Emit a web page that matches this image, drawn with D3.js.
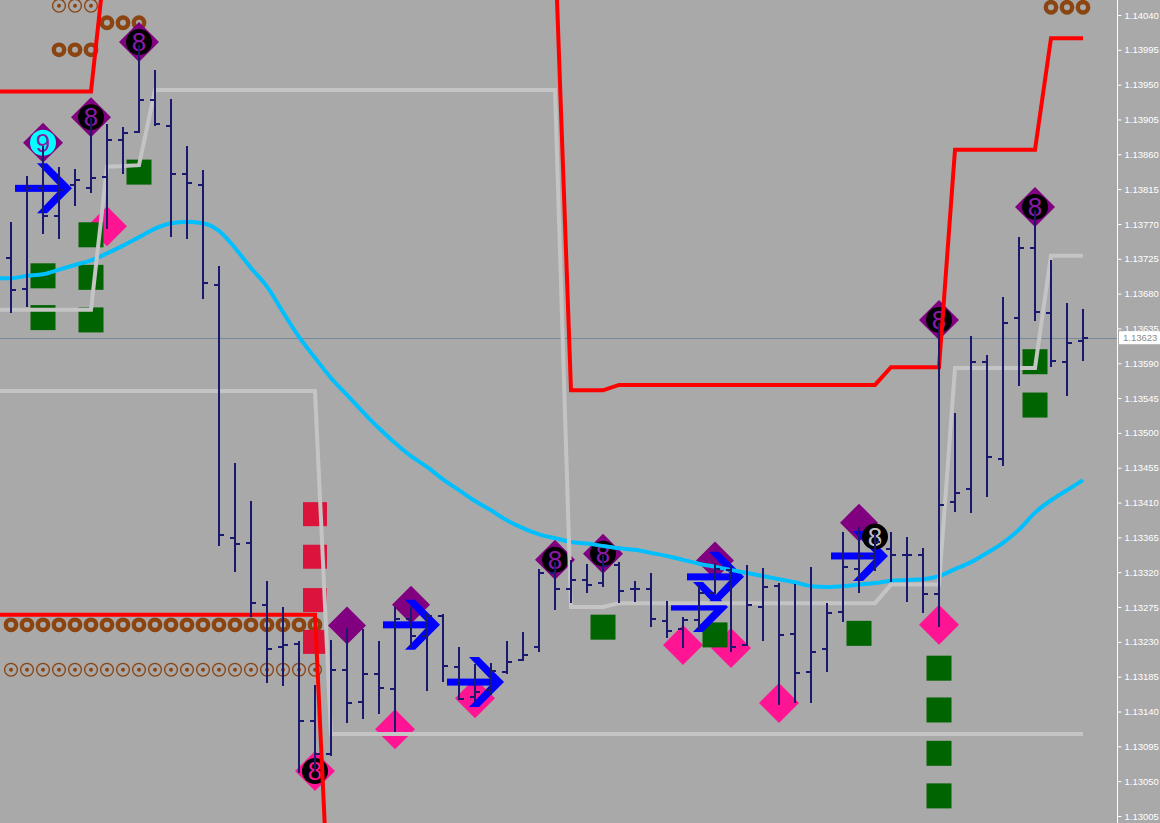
<!DOCTYPE html>
<html lang="en">
<head>
<meta charset="utf-8" />
<title>EURUSD M-chart</title>
<script src="https://d3js.org/d3.v7.min.js"></script>
<style>
    body { margin: 0; background: #a9a9a9; }
    svg { display: block; }
    .axis text { font: 9.5px "Liberation Sans", Arial, sans-serif; fill: #ffffff; }
    .axis line { stroke: #ffffff; }
</style>
</head>
<body>
<div id="chart"></div>
<script>

// price bars, one value per bar (68 bars)
const opens = [1.13726,1.13686,1.13816,1.13780,1.13820,1.13816,1.13831,1.13879,1.13889,1.13930,
    1.13897,1.13835,1.13820,1.13691,1.13364,1.13358,1.13278,1.13223,1.13227,1.13128,
    1.13085,1.13194,1.13152,1.13189,1.13169,1.13260,1.13238,1.13263,1.13198,1.13159,
    1.13168,1.13191,1.13207,1.13223,1.13319,1.13298,1.13310,1.13306,1.13329,1.13298,
    1.13298,1.13257,1.13247,1.13258,1.13293,1.13323,1.13226,1.13275,1.13302,1.13240,
    1.13191,1.13221,1.13269,1.13324,1.13341,1.13350,1.13342,1.13342,1.13292,1.13411,
    1.13428,1.13592,1.13466,1.13649,1.13739,1.13655,1.13592,1.13619];
const highs = [1.13773,1.13832,1.13871,1.13844,1.13841,1.13907,1.13899,1.13895,1.14001,1.13969,
    1.13931,1.13871,1.13840,1.13716,1.13461,1.13412,1.13309,1.13275,1.13231,1.13174,
    1.13232,1.13248,1.13247,1.13231,1.13275,1.13275,1.13267,1.13266,1.13223,1.13201,
    1.13203,1.13231,1.13243,1.13324,1.13333,1.13336,1.13331,1.13342,1.13333,1.13309,
    1.13319,1.13283,1.13262,1.13304,1.13332,1.13328,1.13329,1.13325,1.13306,1.13305,
    1.13327,1.13280,1.13372,1.13378,1.13371,1.13372,1.13366,1.13351,1.13642,1.13526,
    1.13625,1.13601,1.13676,1.13753,1.13788,1.13723,1.13668,1.13660];
const lows = [1.13655,1.13663,1.13757,1.13751,1.13793,1.13810,1.13764,1.13835,1.13888,1.13897,
    1.13753,1.13751,1.13673,1.13354,1.13320,1.13262,1.13177,1.13173,1.13061,1.13063,
    1.13083,1.13125,1.13130,1.13137,1.13114,1.13222,1.13167,1.13178,1.13155,1.13152,
    1.13161,1.13189,1.13205,1.13217,1.13271,1.13280,1.13293,1.13301,1.13280,1.13282,
    1.13249,1.13235,1.13222,1.13245,1.13292,1.13217,1.13225,1.13231,1.13148,1.13151,
    1.13151,1.13191,1.13256,1.13293,1.13322,1.13307,1.13282,1.13267,1.13249,1.13398,
    1.13397,1.13417,1.13457,1.13561,1.13645,1.13585,1.13548,1.13593];
const closes = [1.13685,1.13816,1.13780,1.13814,1.13827,1.13829,1.13879,1.13888,1.13930,1.13899,
    1.13835,1.13823,1.13694,1.13368,1.13356,1.13280,1.13221,1.13226,1.13128,1.13085,
    1.13194,1.13151,1.13189,1.13170,1.13260,1.13238,1.13263,1.13199,1.13156,1.13165,
    1.13192,1.13204,1.13213,1.13319,1.13298,1.13310,1.13304,1.13328,1.13296,1.13298,
    1.13260,1.13244,1.13258,1.13293,1.13324,1.13223,1.13278,1.13301,1.13239,1.13190,
    1.13217,1.13267,1.13327,1.13341,1.13359,1.13342,1.13342,1.13292,1.13407,1.13422,
    1.13592,1.13469,1.13642,1.13739,1.13656,1.13593,1.13616,1.13623];

// moving average (cyan)
const maLine = [1.13700,1.13703,1.13705,1.13711,1.13717,1.13723,1.13732,1.13742,1.13753,1.13764,
    1.13771,1.13773,1.13771,1.13761,1.13739,1.13713,1.13689,1.13656,1.13624,1.13597,
    1.13571,1.13549,1.13527,1.13506,1.13487,1.13470,1.13456,1.13440,1.13426,1.13412,
    1.13400,1.13387,1.13377,1.13369,1.13364,1.13359,1.13357,1.13354,1.13351,1.13349,
    1.13345,1.13341,1.13336,1.13331,1.13327,1.13323,1.13319,1.13315,1.13311,1.13307,
    1.13302,1.13301,1.13302,1.13304,1.13306,1.13309,1.13310,1.13311,1.13315,1.13324,
    1.13333,1.13345,1.13358,1.13375,1.13397,1.13413,1.13426,1.13439];

// silver channel
const grayUpper = [1.13659,1.13659,1.13659,1.13659,1.13659,1.13659,1.13844,1.13845,1.13846,1.13943,
    1.13943,1.13943,1.13943,1.13943,1.13943,1.13943,1.13943,1.13943,1.13943,1.13943,
    1.13943,1.13943,1.13943,1.13943,1.13943,1.13943,1.13943,1.13943,1.13943,1.13943,
    1.13943,1.13943,1.13943,1.13943,1.13943,1.13275,1.13275,1.13275,1.13280,1.13280,
    1.13280,1.13280,1.13280,1.13280,1.13280,1.13280,1.13280,1.13280,1.13280,1.13280,
    1.13280,1.13280,1.13280,1.13280,1.13280,1.13304,1.13304,1.13304,1.13304,1.13584,
    1.13584,1.13584,1.13584,1.13584,1.13584,1.13729,1.13729,1.13729];
const grayLower = [1.13554,1.13554,1.13554,1.13554,1.13554,1.13554,1.13554,1.13554,1.13554,1.13554,
    1.13554,1.13554,1.13554,1.13554,1.13554,1.13554,1.13554,1.13554,1.13554,1.13554,
    1.13111,1.13111,1.13111,1.13111,1.13111,1.13111,1.13111,1.13111,1.13111,1.13111,
    1.13111,1.13111,1.13111,1.13111,1.13111,1.13111,1.13111,1.13111,1.13111,1.13111,
    1.13111,1.13111,1.13111,1.13111,1.13111,1.13111,1.13111,1.13111,1.13111,1.13111,
    1.13111,1.13111,1.13111,1.13111,1.13111,1.13111,1.13111,1.13111,1.13111,1.13111,
    1.13111,1.13111,1.13111,1.13111,1.13111,1.13111,1.13111,1.13111];

// red channel (parts of it run off the visible price range)
const redUpper = [1.13941,1.13941,1.13941,1.13941,1.13941,1.13941,1.14132,1.14132,1.14132,1.14132,
    1.14132,1.14132,1.14132,1.14132,1.14132,1.14132,1.14132,1.14132,1.14132,1.14132,
    1.14132,1.14132,1.14132,1.14132,1.14132,1.14132,1.14132,1.14132,1.14132,1.14132,
    1.14132,1.14132,1.14132,1.14132,1.14132,1.13555,1.13555,1.13555,1.13562,1.13562,
    1.13562,1.13562,1.13562,1.13562,1.13562,1.13562,1.13562,1.13562,1.13562,1.13562,
    1.13562,1.13562,1.13562,1.13562,1.13562,1.13585,1.13585,1.13585,1.13585,1.13866,
    1.13866,1.13866,1.13866,1.13866,1.13866,1.14010,1.14010,1.14010];
const redLower = [1.13265,1.13265,1.13265,1.13265,1.13265,1.13265,1.13265,1.13265,1.13265,1.13265,
    1.13265,1.13265,1.13265,1.13265,1.13265,1.13265,1.13265,1.13265,1.13265,1.13265,
    1.12819,1.12819,1.12819,1.12819,1.12819,1.12819,1.12819,1.12819,1.12819,1.12819,
    1.12819,1.12819,1.12819,1.12819,1.12819,1.12819,1.12819,1.12819,1.12819,1.12819,
    1.12819,1.12819,1.12819,1.12819,1.12819,1.12819,1.12819,1.12819,1.12819,1.12819,
    1.12819,1.12819,1.12819,1.12819,1.12819,1.12819,1.12819,1.12819,1.12819,1.12819,
    1.12819,1.12819,1.12819,1.12819,1.12819,1.12819,1.12819,1.12819];

// signal markers: [bar index, price]
const pinkDiamonds = [[6,1.13767],[24,1.13117],[29,1.13157],[42,1.13226],[45,1.13222],[48,1.13151],[58,1.13252]];
const purpleDiamonds = [[21,1.13251],[25,1.13278],[44,1.13335],[53,1.13384]];
const eightMarks = [[5,1.13908],[8,1.14005],[34,1.13336],[37,1.13344],[58,1.13646],[64,1.13792]];
const nineMarks = [[2,1.13875]];
const pinkEightMarks = [[19,1.13063]];
const blackEightMarks = [[54,1.13366]];
const greenSquares = [[2,1.13703],[2,1.13649],[5,1.13756],[5,1.13701],[5,1.13646],[8,1.13837],
    [37,1.13249],[44,1.13239],[53,1.13241],[58,1.13196],[58,1.13142],[58,1.13086],[58,1.13031],
    [64,1.13592],[64,1.13536]];
const redSquares = [[19,1.13395],[19,1.13340],[19,1.13284],[19,1.13230]];
const arrows = [[2,1.13816],[25,1.13252],[29,1.13178],[43,1.13275],[44,1.13314],[53,1.13341]];
const thickRings = [
    { bars: [0,1,2,3,4,5,6,7,8,9,10,11,12,13,14,15,16,17,18,19], price: 1.13252 },
    { bars: [3,4,5], price: 1.13995 },
    { bars: [6,7,8], price: 1.14030 },
    { bars: [65,66,67], price: 1.14050 }
];
const targetRings = [
    { bars: [0,1,2,3,4,5,6,7,8,9,10,11,12,13,14,15,16,17,18,19], price: 1.13194 },
    { bars: [3,4,5], price: 1.14052 }
];

// price scale labels
const priceTicks = [1.14040,1.13995,1.13950,1.13905,1.13860,1.13815,1.13770,1.13725,1.13680,1.13635,
    1.13590,1.13545,1.13500,1.13455,1.13410,1.13365,1.13320,1.13275,1.13230,1.13185,
    1.13140,1.13095,1.13050,1.13005];
const lastPrice = 1.13623;

const width = 1160, height = 823, plotRight = 1117;

const xScale = d3.scaleLinear().domain([0, 67]).range([11, 1083]);
const yScale = d3.scaleLinear().domain([1.13005, 1.14040]).range([816, 15]);

const svg = d3.select("#chart").append("svg")
    .attr("width", width)
    .attr("height", height);

svg.append("rect").attr("width", width).attr("height", height).attr("fill", "#a9a9a9");

svg.append("clipPath").attr("id", "plot")
    .append("rect").attr("width", plotRight).attr("height", height);

const plot = svg.append("g").attr("clip-path", "url(#plot)");

// last price line
plot.append("line")
    .attr("x1", 0).attr("x2", plotRight)
    .attr("y1", Math.round(yScale(lastPrice)) + 0.5).attr("y2", Math.round(yScale(lastPrice)) + 0.5)
    .attr("stroke", "#778899").attr("stroke-width", 1);

const brown = "#8b4513";

// ring rows
thickRings.forEach(function (grp) {
    plot.selectAll(null).data(grp.bars).enter().append("circle")
        .attr("cx", d => xScale(d))
        .attr("cy", yScale(grp.price))
        .attr("r", 5.2)
        .attr("fill", "none")
        .attr("stroke", brown)
        .attr("stroke-width", 4.4);
});
targetRings.forEach(function (grp) {
    const g = plot.selectAll(null).data(grp.bars).enter().append("g");
    g.append("circle")
        .attr("cx", d => xScale(d)).attr("cy", yScale(grp.price))
        .attr("r", 6.4).attr("fill", "none").attr("stroke", brown).attr("stroke-width", 1.4);
    g.append("circle")
        .attr("cx", d => xScale(d)).attr("cy", yScale(grp.price))
        .attr("r", 2).attr("fill", brown);
});

function diamondPath(d, r) {
    const x = xScale(d[0]), y = yScale(d[1]);
    return "M" + x + "," + (y - r) + "L" + (x + r) + "," + y + "L" + x + "," + (y + r) + "L" + (x - r) + "," + y + "Z";
}

// plain diamonds
plot.selectAll(".pink").data(pinkDiamonds).enter().append("path")
    .attr("d", d => diamondPath(d, 20)).attr("fill", "#ff1493");
plot.selectAll(".purple").data(purpleDiamonds).enter().append("path")
    .attr("d", d => diamondPath(d, 19)).attr("fill", "#800080");

// squares
plot.selectAll(".green").data(greenSquares).enter().append("rect")
    .attr("x", d => xScale(d[0]) - 12.5).attr("y", d => yScale(d[1]) - 12.5)
    .attr("width", 25).attr("height", 25).attr("fill", "#006400");
plot.selectAll(".crimson").data(redSquares).enter().append("rect")
    .attr("x", d => xScale(d[0]) - 12).attr("y", d => yScale(d[1]) - 12)
    .attr("width", 24).attr("height", 24).attr("fill", "#dc143c");

// blue arrows
const arrowG = plot.selectAll(".arrow").data(arrows).enter().append("g");
arrowG.append("rect")
    .attr("x", d => xScale(d[0]) - 28).attr("y", d => yScale(d[1]) - 3.5)
    .attr("width", 50).attr("height", 7).attr("fill", "#0000ff");
arrowG.append("path")
    .attr("d", function (d) {
        const x = xScale(d[0]), y = yScale(d[1]);
        return "M" + (x - 6) + "," + (y - 25) + "L" + (x + 4) + "," + (y - 25) + "L" + (x + 29) + "," + y +
            "L" + (x + 4) + "," + (y + 25) + "L" + (x - 6) + "," + (y + 25) + "L" + (x + 18) + "," + y + "Z";
    })
    .attr("fill", "#0000ff");

// numbered markers
function numberMarks(data, diamondFill, circleFill, label, textFill) {
    const g = plot.selectAll(null).data(data).enter().append("g");
    if (diamondFill) {
        g.append("path").attr("d", d => diamondPath(d, 20)).attr("fill", diamondFill);
    }
    g.append("circle")
        .attr("cx", d => xScale(d[0])).attr("cy", d => yScale(d[1]))
        .attr("r", 13).attr("fill", circleFill);
    g.append("text")
        .attr("x", d => xScale(d[0])).attr("y", d => yScale(d[1]) + 9)
        .attr("text-anchor", "middle")
        .attr("font-family", "Liberation Sans, Arial, sans-serif")
        .attr("font-size", 26)
        .attr("fill", textFill)
        .text(label);
}
numberMarks(eightMarks, "#800080", "#000000", "8", "#8a1aa8");
numberMarks(nineMarks, "#800080", "#00ffff", "9", "#8a1aa8");
numberMarks(pinkEightMarks, "#ff1493", "#000000", "8", "#ff1493");
numberMarks(blackEightMarks, null, "#000000", "8", "#c0c0c0");

// indicator lines, extended to the left edge
const leftIndex = xScale.invert(0);
function withEdge(values) {
    const pts = values.map((v, i) => [i, v]);
    pts.unshift([leftIndex, values[0]]);
    return pts;
}
const line = d3.line().x(d => xScale(d[0])).y(d => yScale(d[1]));

plot.append("path").datum(withEdge(maLine))
    .attr("d", line.curve(d3.curveMonotoneX))
    .attr("fill", "none").attr("stroke", "#00bfff").attr("stroke-width", 4);
line.curve(d3.curveLinear);
[grayUpper, grayLower].forEach(function (s) {
    plot.append("path").datum(withEdge(s))
        .attr("d", line)
        .attr("fill", "none").attr("stroke", "#c4c4c4").attr("stroke-width", 4);
});
[redUpper, redLower].forEach(function (s) {
    plot.append("path").datum(withEdge(s))
        .attr("d", line)
        .attr("fill", "none").attr("stroke", "#ff0000").attr("stroke-width", 4);
});

// OHLC bars
const barColor = "#191970";
const bars = plot.append("g").attr("shape-rendering", "crispEdges");
const idx = d3.range(opens.length);
bars.selectAll(".hl").data(idx).enter().append("line")
    .attr("x1", i => xScale(i)).attr("x2", i => xScale(i))
    .attr("y1", i => yScale(highs[i])).attr("y2", i => yScale(lows[i]))
    .attr("stroke", barColor).attr("stroke-width", 2);
bars.selectAll(".op").data(idx).enter().append("line")
    .attr("x1", i => xScale(i) - 5).attr("x2", i => xScale(i))
    .attr("y1", i => yScale(opens[i])).attr("y2", i => yScale(opens[i]))
    .attr("stroke", barColor).attr("stroke-width", 2);
bars.selectAll(".cl").data(idx).enter().append("line")
    .attr("x1", i => xScale(i)).attr("x2", i => xScale(i) + 5)
    .attr("y1", i => yScale(closes[i])).attr("y2", i => yScale(closes[i]))
    .attr("stroke", barColor).attr("stroke-width", 2);

// price axis
svg.append("line")
    .attr("x1", plotRight + 0.5).attr("x2", plotRight + 0.5)
    .attr("y1", 0).attr("y2", height)
    .attr("stroke", "#ffffff").attr("stroke-width", 1);

const yAxis = d3.axisRight(yScale)
    .tickValues(priceTicks)
    .tickFormat(d3.format(".5f"))
    .tickSize(4)
    .tickPadding(3);
const axisG = svg.append("g")
    .attr("class", "axis")
    .attr("transform", "translate(" + (plotRight + 0.5) + ",0)")
    .call(yAxis);
axisG.select(".domain").remove();

// last price tag
const tagY = yScale(lastPrice);
svg.append("rect")
    .attr("x", plotRight + 2).attr("y", tagY - 6.5)
    .attr("width", width - plotRight - 2).attr("height", 13)
    .attr("fill", "#ffffff");
svg.append("text")
    .attr("x", plotRight + 6).attr("y", tagY + 3.5)
    .attr("font-family", "Liberation Sans, Arial, sans-serif")
    .attr("font-size", 9.5)
    .attr("fill", "#8c8c8c")
    .text(d3.format(".5f")(lastPrice));

</script>
</body>
</html>
